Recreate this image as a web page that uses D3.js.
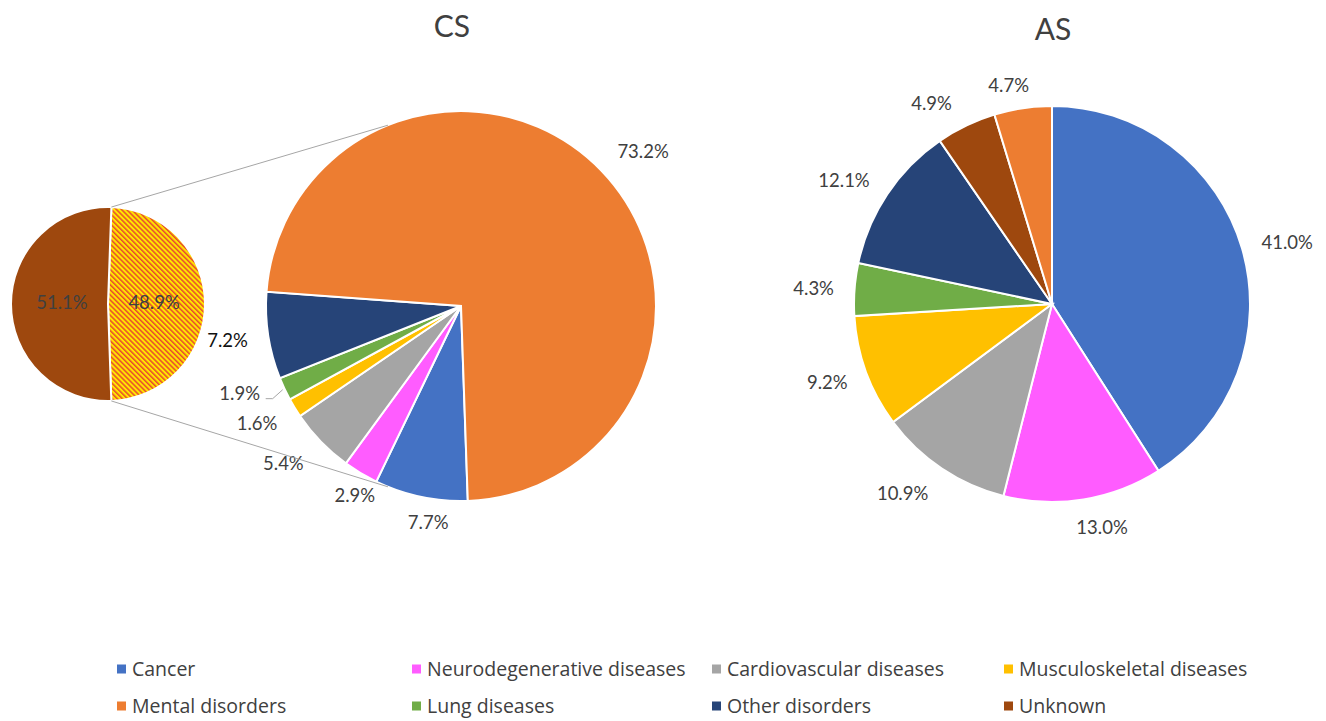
<!DOCTYPE html>
<html>
<head>
<meta charset="utf-8">
<script src="https://cdn.jsdelivr.net/npm/d3@7"></script>
<style>
  body { margin: 0; background: #fff; }
  text { font-family: Lato, "Open Sans", sans-serif; fill: #404040; }
</style>
</head>
<body>
<svg width="1326" height="721"></svg>
<script>
// legend categories, row by row
const categories = ["Cancer", "Neurodegenerative diseases", "Cardiovascular diseases", "Musculoskeletal diseases",
  "Mental disorders", "Lung diseases", "Other disorders", "Unknown"];
const colors = ["#4472C4", "#FF5CFF", "#A5A5A5", "#FFC000", "#ED7D31", "#70AD47", "#264478", "#9E480E"];

// CS main pie
const csOrder = ["Cancer", "Neurodegenerative diseases", "Cardiovascular diseases", "Musculoskeletal diseases",
  "Lung diseases", "Other disorders", "Mental disorders"];
const csValues = [7.7, 2.9, 5.4, 1.6, 1.9, 7.2, 73.2];

// CS secondary pie (split of mental disorders)
const csSubOrder = ["Mental disorders", "Unknown"];
const csSubValues = [48.9, 51.1];

// AS pie
const asOrder = ["Cancer", "Neurodegenerative diseases", "Cardiovascular diseases", "Musculoskeletal diseases",
  "Lung diseases", "Other disorders", "Unknown", "Mental disorders"];
const asValues = [41.0, 13.0, 10.9, 9.2, 4.3, 12.1, 4.9, 4.7];

// label nudges (layout only)
const csShift = [[12, 3], [6, 3], [-21, 6], [-18, 4], [-24, -5], [-18, 1], [25, -3]];
const asShift = [[24, 0], [15, 6], [-27, 7], [-18, 3], [-19, 1], [-25, -1], [-25, -2], [-11, -1]];

const svg = d3.select("svg");
const color = d3.scaleOrdinal().domain(categories).range(colors);
const fmt = d3.format(".1f");
const rad = (deg) => (deg * Math.PI) / 180;
const pt = (cx, cy, r, a) => [cx + r * Math.sin(a), cy - r * Math.cos(a)];

// hatch pattern for the secondary slice
const defs = svg.append("defs");
const pat = defs.append("pattern")
  .attr("id", "hatch")
  .attr("patternUnits", "userSpaceOnUse")
  .attr("width", 3.6).attr("height", 3.6)
  .attr("patternTransform", "rotate(-45)");
pat.append("rect").attr("width", 3.6).attr("height", 3.6).attr("fill", "#FFE600");
pat.append("rect").attr("width", 1.5).attr("height", 3.6).attr("fill", "#E64A2E");

function drawPie(cx, cy, r, order, values, start, shift, R) {
  const pie = d3.pie().sort(null).value((d) => d)
    .startAngle(start).endAngle(start + 2 * Math.PI);
  const arcs = pie(values);
  const arc = d3.arc().innerRadius(0).outerRadius(r);
  const g = svg.append("g").attr("transform", `translate(${cx},${cy})`);
  g.selectAll("path")
    .data(arcs)
    .enter()
    .append("path")
    .attr("d", arc)
    .attr("fill", (d, i) => color(order[i]))
    .attr("stroke", "#fff")
    .attr("stroke-width", 2);

  g.selectAll("text")
    .data(arcs)
    .enter()
    .append("text")
    .attr("x", (d, i) => pt(0, 0, R, (d.startAngle + d.endAngle) / 2)[0] + shift[i][0])
    .attr("y", (d, i) => pt(0, 0, R, (d.startAngle + d.endAngle) / 2)[1] + shift[i][1])
    .attr("dy", "0.35em")
    .attr("text-anchor", "middle")
    .style("font-size", "18.5px")
    .text((d) => fmt(d.data) + "%");
  return { g, arcs };
}

// titles
svg.append("text").attr("x", 452).attr("y", 37).attr("text-anchor", "middle")
  .style("font-size", "30px").text("CS");
svg.append("text").attr("x", 1053).attr("y", 40).attr("text-anchor", "middle")
  .style("font-size", "30px").text("AS");

// CS main pie
const csC = { x: 461, y: 306, r: 195 };
const cs = drawPie(csC.x, csC.y, csC.r, csOrder, csValues, rad(178), csShift, csC.r + 23);
// "Other disorders" label is darker in the original
cs.g.selectAll("text").filter((d, i) => csOrder[i] === "Other disorders").style("fill", "#111");

// leader line for Lung diseases label
const lungIdx = csOrder.indexOf("Lung diseases");
const lungArc = cs.arcs[lungIdx];
const lungPt = pt(0, 0, csC.r + 2, (lungArc.startAngle + lungArc.endAngle) / 2);
const lungLbl = pt(0, 0, csC.r + 23, (lungArc.startAngle + lungArc.endAngle) / 2);
cs.g.append("polyline")
  .attr("points", [
    [lungLbl[0] + csShift[lungIdx][0] + 26, lungLbl[1] + csShift[lungIdx][1] + 5],
    [lungLbl[0] + csShift[lungIdx][0] + 33, lungLbl[1] + csShift[lungIdx][1] + 5],
    lungPt
  ].map((p) => p.join(",")).join(" "))
  .attr("fill", "none")
  .attr("stroke", "#a6a6a6")
  .attr("stroke-width", 1);

// CS secondary pie
const subC = { x: 108, y: 304, r: 97 };
const subPie = d3.pie().sort(null).value((d) => d)
  .startAngle(rad(2)).endAngle(rad(2) + 2 * Math.PI);
const subArcs = subPie(csSubValues);
const subArc = d3.arc().innerRadius(0).outerRadius(subC.r);
const subG = svg.append("g").attr("transform", `translate(${subC.x},${subC.y})`);
subG.selectAll("path")
  .data(subArcs)
  .enter()
  .append("path")
  .attr("d", subArc)
  .attr("fill", (d, i) => (csSubOrder[i] === "Mental disorders" ? "url(#hatch)" : color(csSubOrder[i])))
  .attr("stroke", "#fff")
  .attr("stroke-width", 2);
subG.selectAll("text")
  .data(subArcs)
  .enter()
  .append("text")
  .attr("x", (d) => subArc.centroid(d)[0] * 0.95)
  .attr("y", -1)
  .attr("dy", "0.35em")
  .attr("text-anchor", "middle")
  .style("font-size", "18.5px")
  .text((d) => fmt(d.data) + "%");

// connector lines between the two CS pies
const hatched = subArcs[0];
const topA = pt(subC.x, subC.y, subC.r, hatched.startAngle);
const botA = pt(subC.x, subC.y, subC.r, hatched.endAngle);
const topB = pt(csC.x, csC.y, csC.r, rad(338));
const botB = pt(csC.x, csC.y, csC.r, rad(202));
[[topA, topB], [botA, botB]].forEach(([a, b]) => {
  svg.append("line")
    .attr("x1", a[0]).attr("y1", a[1])
    .attr("x2", b[0]).attr("y2", b[1])
    .attr("stroke", "#a6a6a6")
    .attr("stroke-width", 1);
});

// AS pie
drawPie(1052, 304, 198, asOrder, asValues, 0, asShift, 220);

// legend
const legendX = [117, 412, 712, 1004];
const legendY = [669, 706];
const legend = svg.append("g");
const items = legend.selectAll("g")
  .data(categories)
  .enter()
  .append("g")
  .attr("transform", (d, i) => `translate(${legendX[i % 4]},${legendY[Math.floor(i / 4)]})`);
items.append("rect")
  .attr("x", 0).attr("y", -4.5)
  .attr("width", 9).attr("height", 9)
  .attr("fill", (d) => color(d));
items.append("text")
  .attr("x", 15)
  .attr("dy", "0.35em")
  .style("font-family", "'Open Sans', sans-serif")
  .style("font-size", "19.5px")
  .text((d) => d);
</script>
</body>
</html>
